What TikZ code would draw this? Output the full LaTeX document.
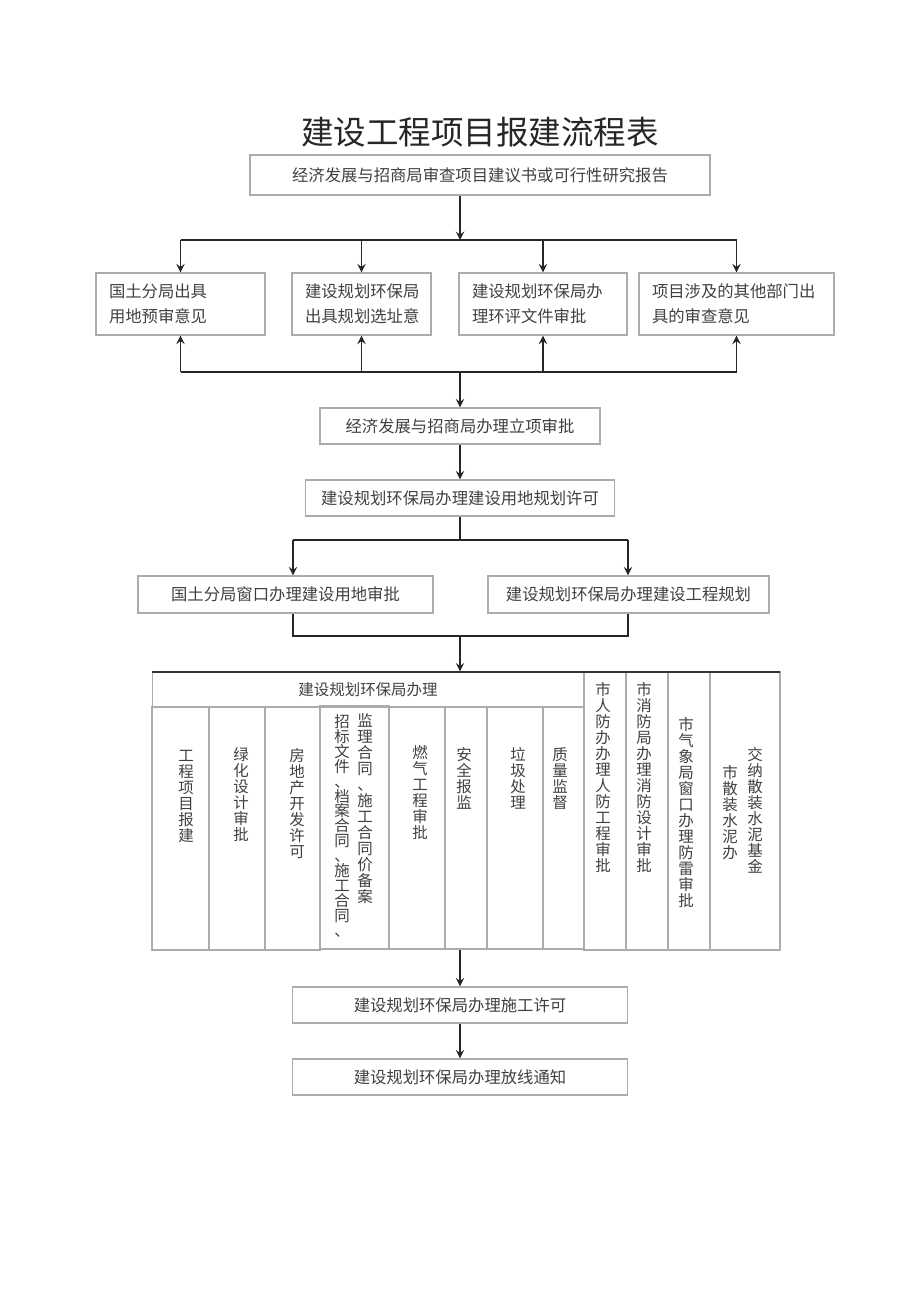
\documentclass[tikz,border=0pt]{standalone}
\usepackage{fontspec}
\setmainfont{Noto Sans CJK SC}
\usepackage{tikz}
\tikzset{box/.style={draw=gray!65, line width=0.8pt, text=black!75, font=\fontsize{9.3}{14.2}\selectfont, inner sep=0pt}}
\tikzset{twoline/.style={box, align=left, inner xsep=0.26cm}}
\tikzset{cell/.style={draw=gray!65, line width=0.6pt}}
\tikzset{vtext/.style={text=black!75, font=\fontsize{8.8}{9.1}\selectfont, align=center, inner sep=0pt, anchor=north}}
\tikzset{conn/.style={draw=black!85, line width=1.1pt}}

\begin{document}
\begin{tikzpicture}[x=0.02cm, y=-0.02cm]
\useasboundingbox (0,0) rectangle (920,1301);
\node[text=black!85, font=\fontsize{18.5}{20}\selectfont] (title) at (480,132) {建设工程项目报建流程表};
\node[box, minimum width=9.2cm, minimum height=0.8cm] (top) at (480,175) {经济发展与招商局审查项目建议书或可行性研究报告};
\node[twoline, text width=2.86cm, minimum height=1.24cm] (b1) at (180.5,304) {国土分局出具\\用地预审意见};
\node[twoline, text width=2.26cm, minimum height=1.24cm] (b2) at (361.5,304) {建设规划环保局\\出具规划选址意};
\node[twoline, text width=2.84cm, minimum height=1.24cm] (b3) at (543,304) {建设规划环保局办\\理环评文件审批};
\node[twoline, text width=3.38cm, minimum height=1.24cm] (b4) at (736.5,304) {项目涉及的其他部门出\\具的审查意见};
\node[box, minimum width=5.6cm, minimum height=0.72cm] (lx) at (460,426) {经济发展与招商局办理立项审批};
\node[box, minimum width=6.18cm, minimum height=0.72cm] (gh) at (460,498) {建设规划环保局办理建设用地规划许可};
\node[box, minimum width=5.9cm, minimum height=0.74cm] (gt) at (285.5,594.5) {国土分局窗口办理建设用地审批};
\node[box, minimum width=5.62cm, minimum height=0.74cm] (gg) at (628.5,594.5) {建设规划环保局办理建设工程规划};
\node[box, minimum width=6.7cm, minimum height=0.72cm] (sg) at (460,1005) {建设规划环保局办理施工许可};
\node[box, minimum width=6.7cm, minimum height=0.72cm] (fx) at (460,1077) {建设规划环保局办理放线通知};

\coordinate (s1) at (460,240);
\coordinate (s2) at (460,372);
\coordinate (s3) at (460,540);
\coordinate (s3l) at (293,540);
\coordinate (s3r) at (628,540);
\coordinate (s4) at (460,636);
\coordinate (s4l) at (293,636);
\coordinate (s4r) at (628,636);
\coordinate (tb) at (460,950);

\draw[conn, ->, >=stealth] (top.south -| s1) -- (s1);
\draw[conn] (b1.north |- s1) -- (b4.north |- s1);
\draw[conn, ->, >=stealth] (b1.north |- s1) -- (b1.north);
\draw[conn, ->, >=stealth] (b2.north |- s1) -- (b2.north);
\draw[conn, ->, >=stealth] (b3.north |- s1) -- (b3.north);
\draw[conn, ->, >=stealth] (b4.north |- s1) -- (b4.north);
\draw[conn] (b1.south |- s2) -- (b4.south |- s2);
\draw[conn, ->, >=stealth] (b1.south |- s2) -- (b1.south);
\draw[conn, ->, >=stealth] (b2.south |- s2) -- (b2.south);
\draw[conn, ->, >=stealth] (b3.south |- s2) -- (b3.south);
\draw[conn, ->, >=stealth] (b4.south |- s2) -- (b4.south);
\draw[conn, ->, >=stealth] (s2) -- (lx);
\draw[conn, ->, >=stealth] (lx) -- (gh);
\draw[conn] (gh) -- (s3);
\draw[conn] (s3l) -- (s3r);
\draw[conn, ->, >=stealth] (s3l) -- (s3l |- gt.north);
\draw[conn, ->, >=stealth] (s3r) -- (s3r |- gg.north);
\draw[conn] (s3l |- gt.south) -- (s4l) -- (s4r) -- (s3r |- gg.south);

\node[cell, text=black!75, font=\fontsize{8.8}{10}\selectfont, minimum width=8.64cm, minimum height=0.7cm] (hdr) at (368,689.5) {建设规划环保局办理};
\draw[conn, ->, >=stealth] (s4) -- (s4 |- hdr.north);
\draw[cell] (152,707) rectangle (209,950);
\draw[cell] (209,707) rectangle (265,950);
\draw[cell] (265,707) rectangle (320,950);
\draw[cell] (320,706) rectangle (389,949);
\draw[cell] (389,707) rectangle (445,949);
\draw[cell] (445,707) rectangle (487,949);
\draw[cell] (487,707) rectangle (543,949);
\draw[cell] (543,707) rectangle (584,949);
\draw[cell] (584,672) rectangle (626,950);
\draw[cell] (626,672) rectangle (668,950);
\draw[cell] (668,672) rectangle (710,950);
\draw[cell] (710,672) rectangle (780,950);
\draw[draw=black!80, line width=0.8pt] (152,672) -- (780,672);

\node[vtext] (t1) at (186,750) {工\\程\\项\\目\\报\\建};
\node[vtext] (t2) at (241,747) {绿\\化\\设\\计\\审\\批};
\node[vtext] (t3) at (297,748) {房\\地\\产\\开\\发\\许\\可};
\node[vtext] (t4a) at (365,713) {监\\理\\合\\同\\、\\施\\工\\合\\同\\价\\备\\案};
\node[vtext, font=\fontsize{8.8}{8.5}\selectfont] (t4b) at (342,714) {招\\标\\文\\件\\、\\档\\案\\合\\同\\、\\施\\工\\合\\同\\、};
\node[vtext] (t5) at (420,745) {燃\\气\\工\\程\\审\\批};
\node[vtext] (t6) at (464,747) {安\\全\\报\\监};
\node[vtext] (t7) at (518,747) {垃\\圾\\处\\理};
\node[vtext] (t8) at (560,747) {质\\量\\监\\督};
\node[vtext] (r1) at (603,682) {市\\人\\防\\办\\办\\理\\人\\防\\工\\程\\审\\批};
\node[vtext] (r2) at (644,682) {市\\消\\防\\局\\办\\理\\消\\防\\设\\计\\审\\批};
\node[vtext] (r3) at (686,717) {市\\气\\象\\局\\窗\\口\\办\\理\\防\\雷\\审\\批};
\node[vtext] (r4a) at (755,747) {交\\纳\\散\\装\\水\\泥\\基\\金};
\node[vtext] (r4b) at (730,765) {市\\散\\装\\水\\泥\\办};

\draw[conn, ->, >=stealth] (tb) -- (sg);
\draw[conn, ->, >=stealth] (sg) -- (fx);
\end{tikzpicture}
\end{document}
